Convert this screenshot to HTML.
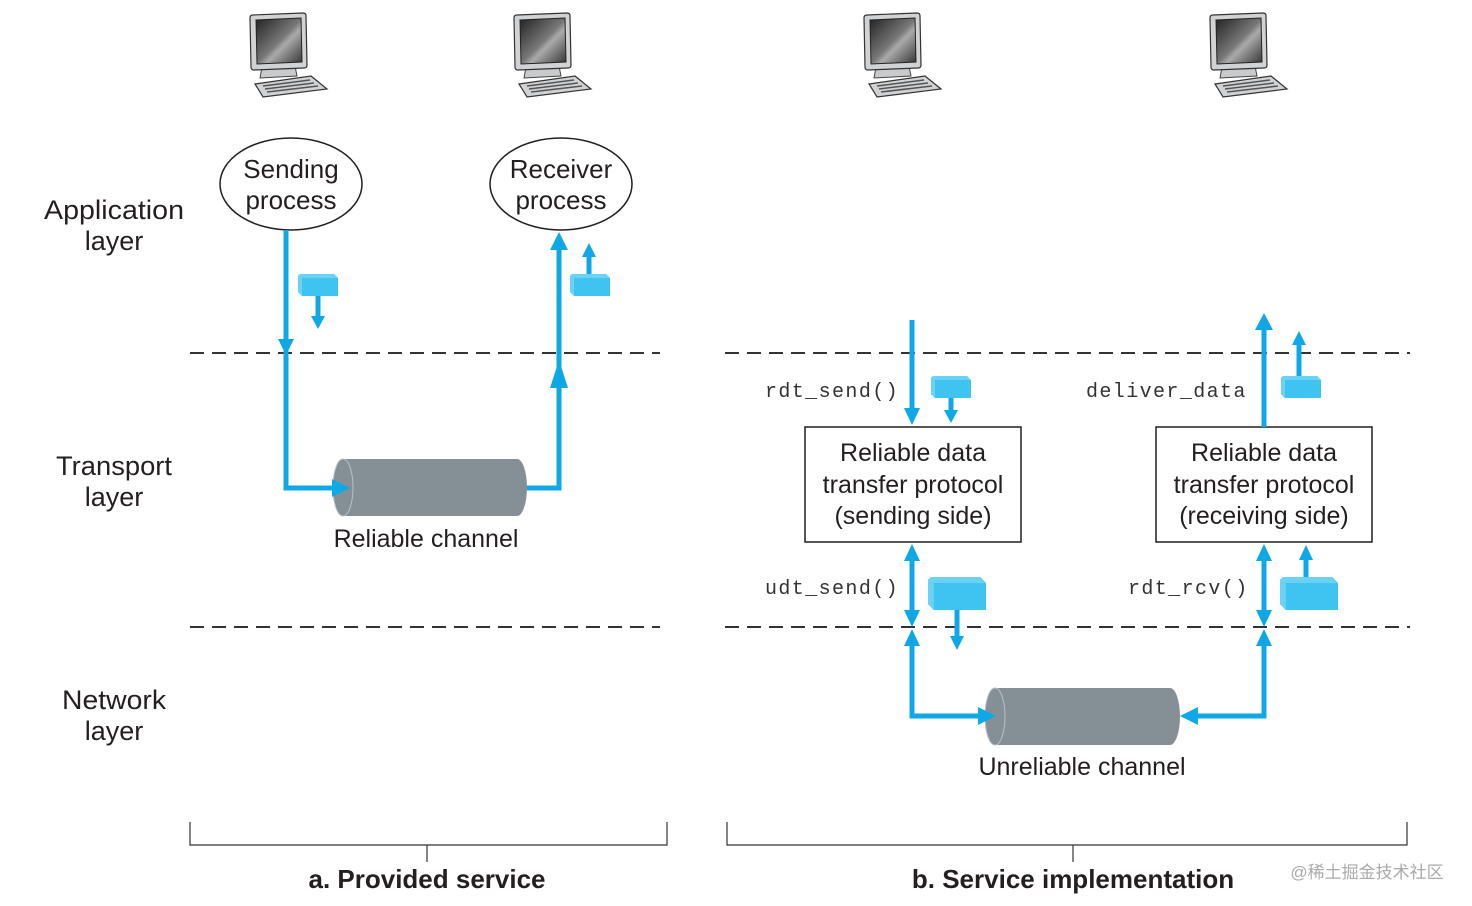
<!DOCTYPE html>
<html><head><meta charset="utf-8"><style>
html,body{margin:0;padding:0;background:#fff;}
svg{display:block;}
.t{font-family:"Liberation Sans Narrow","Liberation Sans",sans-serif;fill:#231f20;}
.m{font-family:"Liberation Mono",monospace;fill:#333;font-size:20px;letter-spacing:1.4px;}
</style></head><body>
<svg width="1472" height="906" viewBox="0 0 1472 906" xmlns="http://www.w3.org/2000/svg">
<defs>
<linearGradient id="scr" x1="0" y1="0" x2="1" y2="1">
<stop offset="0" stop-color="#222"/><stop offset="0.5" stop-color="#777"/><stop offset="0.6" stop-color="#aaa"/><stop offset="1" stop-color="#333"/>
</linearGradient>
<g id="pc">
<path d="M262 67 L295 66 L297 76 L260 78 Z" fill="#c8cacc" stroke="#444" stroke-width="1"/>
<path d="M250 18 Q250 15 253 15 L303 13 Q306 13 306 16 L307 65 Q307 68 304 68 L254 70 Q251 70 251 67 Z" fill="#d0d2d4" stroke="#333" stroke-width="1.2"/>
<path d="M256 20 L301 18 L302 62 L257 64 Z" fill="url(#scr)" stroke="#222" stroke-width="1"/>
<path d="M255 84 L311 76 L327 89 L263 97 Z" fill="#d0d2d4" stroke="#333" stroke-width="1.2"/>
<path d="M263 86 L310 80 M265 89 L314 83 M267 92 L318 86" stroke="#555" stroke-width="1.5"/>
</g>
<g id="pk">
<path d="M2 0 L36 0 L40 4 L40 22 L4 22 L0 18 L0 2 Z" fill="#3fc4f2"/>
<path d="M0 2 L2 0 L36 0 L40 4 L4 4 L4 22 L0 18 Z" fill="#6ad3f5"/>
</g>
</defs>
<use href="#pc"/>
<use href="#pc" x="264"/>
<use href="#pc" x="614"/>
<use href="#pc" x="960"/>

<g class="t" font-size="27" text-anchor="middle">
<text x="114" y="219" textLength="140" lengthAdjust="spacingAndGlyphs">Application</text><text x="114" y="250">layer</text>
<text x="114" y="475" textLength="116" lengthAdjust="spacingAndGlyphs">Transport</text><text x="114" y="506">layer</text>
<text x="114" y="709" textLength="104" lengthAdjust="spacingAndGlyphs">Network</text><text x="114" y="740">layer</text>
</g>

<ellipse cx="291" cy="184" rx="71" ry="46" fill="#fff" stroke="#231f20" stroke-width="1.5"/>
<ellipse cx="561" cy="184" rx="71" ry="46" fill="#fff" stroke="#231f20" stroke-width="1.5"/>
<g class="t" font-size="26" text-anchor="middle">
<text x="291" y="178">Sending</text><text x="291" y="209">process</text>
<text x="561" y="178">Receiver</text><text x="561" y="209">process</text>
</g>

<g stroke="#333" stroke-width="2" stroke-dasharray="14,8">
<line x1="190" y1="353" x2="660" y2="353"/><line x1="190" y1="627" x2="660" y2="627"/>
<line x1="725" y1="353" x2="1410" y2="353"/><line x1="725" y1="627" x2="1410" y2="627"/>
</g>

<!-- cylinders -->
<rect x="343" y="459" width="174" height="57" fill="#858f96"/>
<ellipse cx="517" cy="487.5" rx="10" ry="28.5" fill="#858f96"/>
<ellipse cx="343" cy="487.5" rx="10" ry="28.5" fill="#858f96" stroke="#b8c0c5" stroke-width="1"/>
<text class="t" x="426" y="547" font-size="25" text-anchor="middle">Reliable channel</text>

<rect x="995" y="688" width="175" height="57" fill="#858f96"/>
<ellipse cx="1170" cy="716.5" rx="10" ry="28.5" fill="#858f96"/>
<ellipse cx="995" cy="716.5" rx="10" ry="28.5" fill="#858f96" stroke="#b8c0c5" stroke-width="1"/>
<text class="t" x="1082" y="775" font-size="25" text-anchor="middle">Unreliable channel</text>

<!-- left panel blue -->
<g fill="none" stroke="#0fa8e6" stroke-width="5">
<polyline points="286,230 286,488 334,488"/>
<polyline points="527,488 559,488 559,245"/>
<line x1="318" y1="296" x2="318" y2="318"/>
<line x1="589" y1="274" x2="589" y2="255"/>
</g>
<g fill="#0fa8e6">
<polygon points="278,339 294,339 286,355"/>
<polygon points="332,479 332,497 350,488"/>
<polygon points="550,250 568,250 559,232"/>
<polygon points="550,388 568,388 559,360"/>
<polygon points="311,316 325,316 318,329"/>
<polygon points="582,257 596,257 589,243"/>
</g>
<use href="#pk" x="298" y="274"/>
<use href="#pk" x="570" y="274"/>

<!-- boxes -->
<rect x="805" y="427" width="216" height="115" fill="#fff" stroke="#231f20" stroke-width="1.5"/>
<rect x="1156" y="427" width="216" height="115" fill="#fff" stroke="#231f20" stroke-width="1.5"/>
<g class="t" font-size="25" text-anchor="middle">
<text x="913" y="461">Reliable data</text><text x="913" y="493">transfer protocol</text><text x="913" y="524">(sending side)</text>
<text x="1264" y="461">Reliable data</text><text x="1264" y="493">transfer protocol</text><text x="1264" y="524">(receiving side)</text>
</g>
<text class="m" x="765" y="397">rdt_send()</text>
<text class="m" x="1086" y="397">deliver_data</text>
<text class="m" x="765" y="594">udt_send()</text>
<text class="m" x="1128" y="594">rdt_rcv()</text>

<!-- right panel blue -->
<g fill="none" stroke="#0fa8e6" stroke-width="5">
<line x1="912" y1="320" x2="912" y2="410"/>
<line x1="951" y1="398" x2="951" y2="412"/>
<line x1="1264" y1="427" x2="1264" y2="325"/>
<line x1="1299" y1="376" x2="1299" y2="343"/>
<line x1="912" y1="558" x2="912" y2="612"/>
<polyline points="912,645 912,716 982,716"/>
<line x1="957" y1="610" x2="957" y2="638"/>
<line x1="1264" y1="558" x2="1264" y2="612"/>
<polyline points="1264,645 1264,716 1195,716"/>
<line x1="1306" y1="577" x2="1306" y2="558"/>
</g>
<g fill="#0fa8e6">
<polygon points="904,408 920,408 912,425"/>
<polygon points="944,410 958,410 951,423"/>
<polygon points="1255,330 1273,330 1264,313"/>
<polygon points="1292,345 1306,345 1299,331"/>
<polygon points="904,561 920,561 912,544"/>
<polygon points="904,610 920,610 912,627"/>
<polygon points="904,646 920,646 912,629"/>
<polygon points="950,636 964,636 957,650"/>
<polygon points="978,707 978,725 996,716"/>
<polygon points="1256,561 1272,561 1264,544"/>
<polygon points="1256,610 1272,610 1264,627"/>
<polygon points="1256,646 1272,646 1264,629"/>
<polygon points="1299,560 1313,560 1306,545"/>
<polygon points="1198,707 1198,725 1180,716"/>
</g>
<use href="#pk" x="1281" y="376"/>
<use href="#pk" x="931" y="376"/>
<g transform="translate(928,577) scale(1.45,1.5)"><use href="#pk"/></g>
<g transform="translate(1280,577) scale(1.45,1.5)"><use href="#pk"/></g>

<!-- brackets -->
<g fill="none" stroke="#333" stroke-width="1.2">
<polyline points="190,822 190,845 667,845 667,822"/><line x1="427" y1="845" x2="427" y2="862"/>
<polyline points="727,822 727,845 1407,845 1407,822"/><line x1="1073" y1="845" x2="1073" y2="862"/>
</g>
<g class="t" font-size="26" font-weight="bold" text-anchor="middle">
<text x="427" y="888">a. Provided service</text>
<text x="1073" y="888">b. Service implementation</text>
</g>
<text x="1367" y="878" font-size="17" fill="#aaa" text-anchor="middle" font-family="'Liberation Sans','Noto Sans CJK SC',sans-serif">@稀土掘金技术社区</text>
</svg>
</body></html>
